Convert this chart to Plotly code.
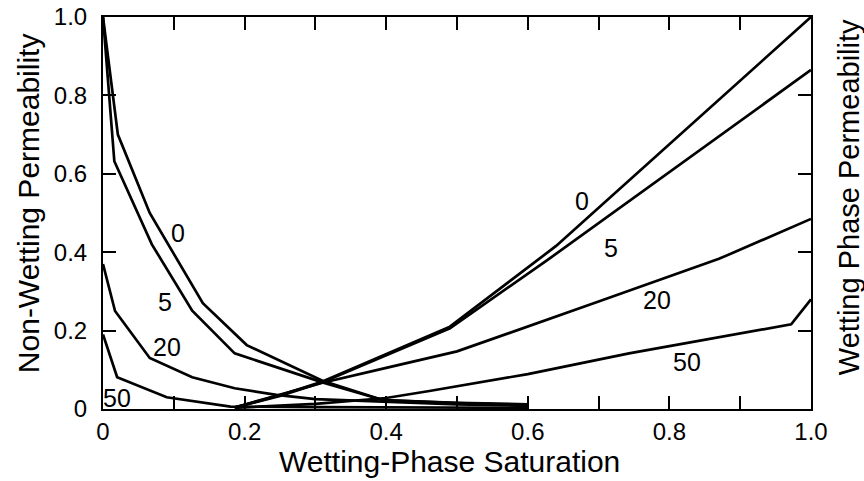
import plotly.graph_objects as go

# ---------------- data ----------------
# Non-wetting phase relative permeability curves (labelled 0, 5, 20, 50)
nw_x_0 = [0, 0.021, 0.066, 0.141, 0.203, 0.31, 0.395, 0.5, 0.6]
nw_y_0 = [1.0, 0.70, 0.50, 0.27, 0.163, 0.072, 0.023, 0.016, 0.012]
nw_x_5 = [0, 0.016, 0.069, 0.126, 0.186, 0.31, 0.395, 0.5, 0.6]
nw_y_5 = [1.0, 0.632, 0.42, 0.251, 0.142, 0.068, 0.023, 0.015, 0.010]
nw_x_20 = [0, 0.017, 0.066, 0.126, 0.186, 0.245, 0.3, 0.4, 0.5, 0.6]
nw_y_20 = [0.37, 0.25, 0.13, 0.081, 0.053, 0.036, 0.025, 0.018, 0.012, 0.008]
nw_x_50 = [0, 0.02, 0.09, 0.144, 0.18, 0.3, 0.45, 0.6]
nw_y_50 = [0.19, 0.081, 0.03, 0.015, 0.006, 0.005, 0.004, 0.003]

# Wetting phase relative permeability curves
w_x_0 = [0.186, 0.25, 0.31, 0.4, 0.49, 0.64, 1.0]
w_y_0 = [0.004, 0.035, 0.070, 0.139, 0.21, 0.416, 1.0]
w_x_5 = [0.186, 0.25, 0.31, 0.4, 0.49, 0.63, 1.0]
w_y_5 = [0.004, 0.033, 0.068, 0.136, 0.206, 0.383, 0.865]
w_x_20 = [0.186, 0.31, 0.4, 0.5, 0.7, 0.87, 1.0]
w_y_20 = [0.004, 0.067, 0.105, 0.147, 0.274, 0.383, 0.485]
w_x_50 = [0.186, 0.3, 0.4, 0.461, 0.6, 0.743, 0.972, 1.0]
w_y_50 = [0.003, 0.013, 0.028, 0.046, 0.089, 0.142, 0.216, 0.28]

curve_labels = ["0", "5", "20", "50"]
nw_label_x = [0.106, 0.087, 0.09, 0.02]
nw_label_y = [0.449, 0.272, 0.157, 0.028]
w_label_x = [0.676, 0.718, 0.783, 0.825]
w_label_y = [0.53, 0.41, 0.277, 0.119]

x_tickvals = [0, 0.1, 0.2, 0.3, 0.4, 0.5, 0.6, 0.7, 0.8, 0.9, 1.0]
x_ticktext = ["0", "", "0.2", "", "0.4", "", "0.6", "", "0.8", "", "1.0"]
y_tickvals = [0, 0.2, 0.4, 0.6, 0.8, 1.0]
y_ticktext = ["0", "0.2", "0.4", "0.6", "0.8", "1.0"]

x_title = "Wetting-Phase Saturation"
y_title = "Non-Wetting Permeability"
y2_title = "Wetting Phase Permeability"

# ---------------- figure ----------------
FONT = "Liberation Sans, Arial, Helvetica, sans-serif"
line_style = dict(color="black", width=2.7)

fig = go.Figure()
nw_sets = [(nw_x_0, nw_y_0), (nw_x_5, nw_y_5), (nw_x_20, nw_y_20), (nw_x_50, nw_y_50)]
w_sets = [(w_x_0, w_y_0), (w_x_5, w_y_5), (w_x_20, w_y_20), (w_x_50, w_y_50)]
for name, (xs, ys) in zip(curve_labels, nw_sets):
    fig.add_trace(go.Scatter(x=xs, y=ys, mode="lines", line=line_style,
                             name="non-wetting " + name, showlegend=False))
for name, (xs, ys) in zip(curve_labels, w_sets):
    fig.add_trace(go.Scatter(x=xs, y=ys, mode="lines", line=line_style,
                             name="wetting " + name, showlegend=False))

annotations = []
for t, x, y in zip(curve_labels, nw_label_x, nw_label_y):
    annotations.append(dict(x=x, y=y, xref="x", yref="y", text=t, showarrow=False,
                            font=dict(family=FONT, size=25, color="black")))
for t, x, y in zip(curve_labels, w_label_x, w_label_y):
    annotations.append(dict(x=x, y=y, xref="x", yref="y", text=t, showarrow=False,
                            font=dict(family=FONT, size=25, color="black")))

annotations.append(dict(x=0.489, y=-0.133, xref="paper", yref="paper", text=x_title,
                        showarrow=False, xanchor="center", yanchor="middle",
                        font=dict(family=FONT, size=30, color="black")))
annotations.append(dict(x=-0.106, y=0.525, xref="paper", yref="paper", text=y_title,
                        showarrow=False, xanchor="center", yanchor="middle", textangle=-90,
                        font=dict(family=FONT, size=30, color="black")))
annotations.append(dict(x=1.054, y=0.541, xref="paper", yref="paper", text=y2_title,
                        showarrow=False, xanchor="center", yanchor="middle", textangle=-90,
                        font=dict(family=FONT, size=29, color="black")))

axis_common = dict(showline=True, linecolor="black", linewidth=2, mirror="ticks",
                   ticks="inside", ticklen=13, tickwidth=1.5, tickcolor="black",
                   showgrid=False, zeroline=False, automargin=False,
                   ticklabeloverflow="allow",
                   tickfont=dict(family=FONT, size=24, color="black"))

fig.update_layout(
    width=864, height=481,
    margin=dict(l=103, r=53, t=17, b=72, autoexpand=False),
    paper_bgcolor="white", plot_bgcolor="white",
    xaxis=dict(range=[0, 1], tickmode="array", tickvals=x_tickvals, ticktext=x_ticktext,
               **axis_common),
    yaxis=dict(range=[0, 1], tickmode="array", tickvals=y_tickvals, ticktext=y_ticktext,
               ticklabelstandoff=9, **axis_common),
    annotations=annotations,
    showlegend=False,
)

# remove the browser's default 8px body margin so the figure fills the window
fig.write_html("out.html", config={"displayModeBar": False},
               post_script="document.body.style.margin='0';")
